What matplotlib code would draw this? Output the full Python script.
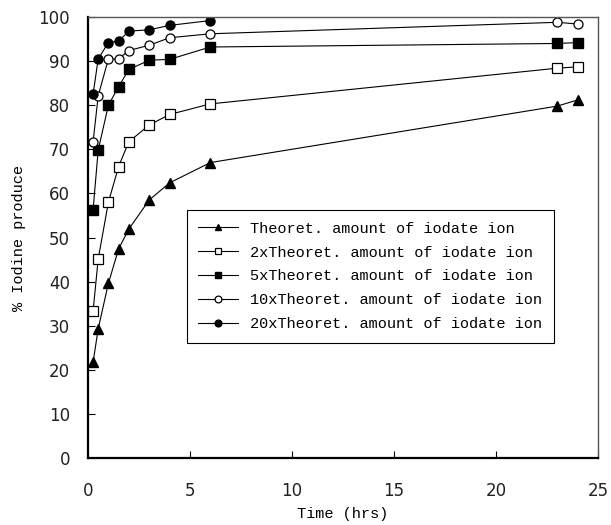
import matplotlib
matplotlib.use("Agg")
import matplotlib.pyplot as plt

time_hrs = [0.25, 0.5, 1, 1.5, 2, 3, 4, 6, 23, 24]
time_20x = [0.25, 0.5, 1, 1.5, 2, 3, 4, 6]

theoret_1x = [21.7, 29.3, 39.6, 47.4, 51.9, 58.5, 62.4, 67.0, 79.8, 81.2]
theoret_2x = [33.3, 45.1, 58.0, 66.1, 71.7, 75.5, 77.9, 80.3, 88.4, 88.7]
theoret_5x = [56.3, 69.8, 80.0, 84.2, 88.1, 90.2, 90.4, 93.2, 94.0, 94.2]
theoret_10x = [71.7, 82.1, 90.5, 90.5, 92.4, 93.6, 95.3, 96.2, 98.8, 98.4]
theoret_20x = [82.5, 90.5, 94.2, 94.5, 96.8, 97.1, 98.1, 99.2]

labels = [
    "Theoret. amount of iodate ion",
    "2xTheoret. amount of iodate ion",
    "5xTheoret. amount of iodate ion",
    "10xTheoret. amount of iodate ion",
    "20xTheoret. amount of iodate ion",
]
x_ticks = [0, 5, 10, 15, 20, 25]
y_ticks = [0, 10, 20, 30, 40, 50, 60, 70, 80, 90, 100]

mono = "Liberation Mono"

fig = plt.figure(figsize=(6.11, 5.25), dpi=100)
ax = fig.add_axes([0.144, 0.1276, 0.835, 0.84])

lw = 0.8
ax.plot(time_hrs, theoret_1x, color="black", lw=lw, marker="^", ms=6.5,
        mfc="black", mec="black", label=labels[0])
ax.plot(time_hrs, theoret_2x, color="black", lw=lw, marker="s", ms=6.5,
        mfc="white", mec="black", mew=0.9, label=labels[1])
ax.plot(time_hrs, theoret_5x, color="black", lw=lw, marker="s", ms=6.5,
        mfc="black", mec="black", label=labels[2])
ax.plot(time_hrs, theoret_10x, color="black", lw=lw, marker="o", ms=6.5,
        mfc="white", mec="black", mew=0.9, label=labels[3])
ax.plot(time_20x, theoret_20x, color="black", lw=lw, marker="o", ms=6.5,
        mfc="black", mec="black", label=labels[4])

ax.set_xlim(0, 25)
ax.set_ylim(0, 100)
ax.set_xticks(x_ticks)
ax.set_yticks(y_ticks)
ax.tick_params(direction="in", length=5, width=0.8, labelsize=12,
               labelcolor="#222222")
ax.tick_params(axis="y", pad=13)
ax.tick_params(axis="x", pad=17)
for lab in ax.get_xticklabels() + ax.get_yticklabels():
    lab.set_fontfamily("DejaVu Sans")

for side in ["left", "bottom"]:
    ax.spines[side].set_linewidth(1.6)
    ax.spines[side].set_color("black")
for side in ["top", "right"]:
    ax.spines[side].set_linewidth(1.0)
    ax.spines[side].set_color("#555555")

ax.set_xlabel("Time (hrs)", fontfamily=mono, fontsize=11, labelpad=5)
ax.set_ylabel("% Iodine produce", fontfamily=mono, fontsize=11, labelpad=9)

leg = ax.legend(loc="upper left", bbox_to_anchor=(0.194, 0.562),
                borderaxespad=0,
                prop={"family": mono, "size": 11}, fancybox=False,
                edgecolor="black", framealpha=1, handlelength=2.6,
                labelspacing=0.65, borderpad=0.75, handletextpad=0.8,
                markerscale=0.75)
leg.get_frame().set_linewidth(0.8)

fig.savefig("out.png", dpi=100)
